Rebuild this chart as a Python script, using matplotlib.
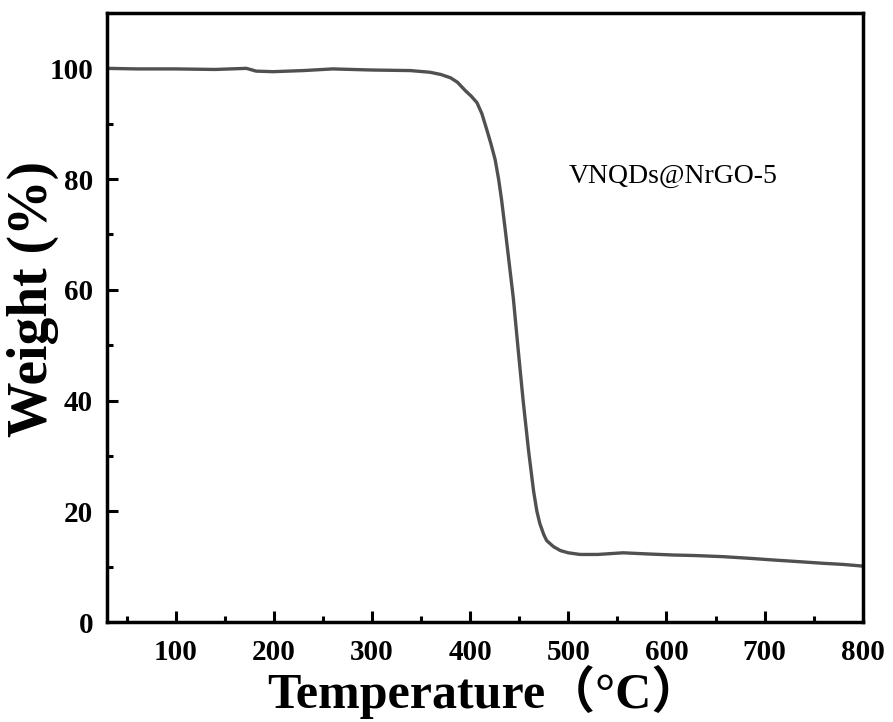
import matplotlib
matplotlib.use("Agg")
import matplotlib.pyplot as plt
from matplotlib.ticker import MultipleLocator

temperature = [30, 60, 100, 140, 172, 182, 199, 230, 260, 300, 339, 359, 370, 380,
               387, 395, 401, 407, 412, 417, 421, 425.5, 429, 432, 436, 439, 444,
               449, 454, 459.5, 464.6, 468, 471, 475, 478, 485, 492, 500, 512, 530,
               556, 580, 607, 630, 658, 685, 709, 735, 760, 780, 800]
weight = [100.0, 99.9, 99.9, 99.8, 100.0, 99.5, 99.4, 99.6, 99.9, 99.7, 99.6, 99.3,
          98.9, 98.3, 97.5, 96.0, 95.0, 93.8, 91.8, 88.9, 86.5, 83.5, 80.0, 76.3,
          70.5, 66.0, 58.5, 49.1, 40.0, 31.0, 23.7, 20.0, 17.8, 15.8, 14.7, 13.6,
          12.9, 12.5, 12.2, 12.2, 12.5, 12.3, 12.1, 12.0, 11.8, 11.5, 11.2, 10.9,
          10.6, 10.4, 10.1]
x_ticks = [100, 200, 300, 400, 500, 600, 700, 800]
y_ticks = [0, 20, 40, 60, 80, 100]
sample_label = "VNQDs@NrGO-5"

serif = ["Liberation Serif", "Noto Sans CJK SC", "DejaVu Serif"]
plt.rcParams["font.family"] = serif

fig = plt.figure(figsize=(8.93, 7.22), dpi=100)
ax = fig.add_axes([0.1198, 0.1385, 0.9661 - 0.1198, 0.982 - 0.1385])

ax.plot(temperature, weight, color="#505050", linewidth=2.4)

ax.set_xlim(30, 800)
ax.set_ylim(0, 110)
ax.set_xticks(x_ticks)
ax.set_yticks(y_ticks)
ax.xaxis.set_minor_locator(MultipleLocator(50))
ax.yaxis.set_minor_locator(MultipleLocator(10))

ax.tick_params(which="both", direction="in", top=False, right=False, width=2.2)
ax.tick_params(which="major", length=8)
ax.tick_params(which="minor", length=4)
ax.tick_params(axis="x", which="major", pad=12)
ax.tick_params(axis="y", which="major", pad=10)
for lab in ax.get_xticklabels() + ax.get_yticklabels():
    lab.set_fontsize(21)
    lab.set_fontweight("bold")
for s in ax.spines.values():
    s.set_linewidth(2.5)

ax.set_xlabel("Temperature（°C）", fontsize=36, fontweight="bold", family=serif)
ax.set_ylabel("Weight (%)", fontsize=40, fontweight="bold", family=serif)
ax.xaxis.set_label_coords(0.5, -0.07)
ax.yaxis.set_label_coords(-0.064, 0.53)

ax.text(500, 80.5, sample_label, fontsize=20, va="center", ha="left")

fig.savefig("out.png", dpi=100, facecolor="white")
